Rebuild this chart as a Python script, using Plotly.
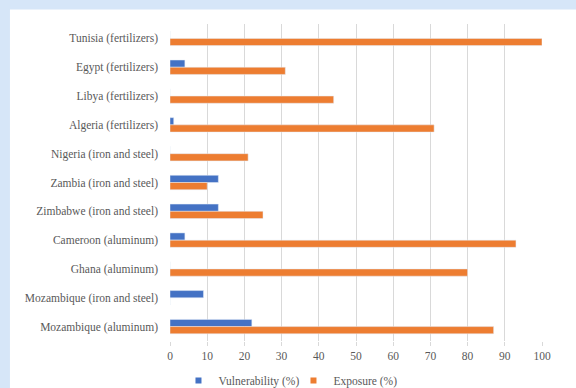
import plotly.graph_objects as go

categories = [
    "Tunisia (fertilizers)",
    "Egypt (fertilizers)",
    "Libya (fertilizers)",
    "Algeria (fertilizers)",
    "Nigeria (iron and steel)",
    "Zambia (iron and steel)",
    "Zimbabwe (iron and steel)",
    "Cameroon (aluminum)",
    "Ghana (aluminum)",
    "Mozambique (iron and steel)",
    "Mozambique (aluminum)",
]
vulnerability = [0, 4, 0, 1, 0, 13, 13, 4, 0, 9, 22]
exposure = [100, 31, 44, 71, 21, 10, 25, 93, 80, 0, 87]
x_ticks = [0, 10, 20, 30, 40, 50, 60, 70, 80, 90, 100]
series_names = ["Vulnerability (%)", "Exposure (%)"]
series_colors = ["#4472C4", "#ED7D31"]

W, H = 576, 388
L, R, T, B = 169.5, 33.5, 23.5, 46.5
pw, ph = W - L - R, H - T - B

def px_x(p):
    return (p - L) / pw

def px_y(p):
    return (H - B - p) / ph

FONT = "'Liberation Serif', 'Times New Roman', serif"
TXT = "#595959"
FS = 11.5
BLUE_BG = "#d6e6f8"

fig = go.Figure()
for vals, name, col in zip([vulnerability, exposure], series_names, series_colors):
    fig.add_trace(go.Bar(y=categories, x=vals, orientation="h", name=name,
                         marker_color=col, showlegend=False, legendgroup=name))
for name, col in zip(series_names, series_colors):
    fig.add_trace(go.Scatter(x=[None], y=[None], mode="markers", name=name,
                             legendgroup=name,
                             marker=dict(symbol="square", size=6, color=col)))

# light-blue frame (left and top bands)
fig.add_shape(type="rect", xref="paper", yref="paper",
              x0=px_x(-20), x1=px_x(9), y0=px_y(H + 20), y1=px_y(-20),
              fillcolor=BLUE_BG, line_width=0, layer="below")
fig.add_shape(type="rect", xref="paper", yref="paper",
              x0=px_x(-20), x1=px_x(W + 20), y0=px_y(9), y1=px_y(-20),
              fillcolor=BLUE_BG, line_width=0, layer="below")

fig.update_layout(
    width=W, height=H,
    margin=dict(l=L, r=R, t=T, b=B, pad=0, autoexpand=False),
    paper_bgcolor="white",
    plot_bgcolor="rgba(0,0,0,0)",
    barmode="group", bargap=0.5, bargroupgap=0,
    font=dict(family=FONT, size=FS, color=TXT),
    showlegend=True,
    legend=dict(orientation="h", x=px_x(178), xanchor="left",
                y=px_y(381), yanchor="middle",
                font=dict(family=FONT, size=FS, color=TXT),
                bgcolor="rgba(0,0,0,0)", itemwidth=30, entrywidth=70,
                traceorder="normal"),
    xaxis=dict(range=[0, 100], tickvals=x_ticks, showgrid=True,
               gridcolor="#d9d9d9", gridwidth=1, zeroline=False,
               showline=False, ticks="outside", ticklen=4, tickcolor="#d9d9d9",
               tickfont=dict(family=FONT, size=FS, color=TXT)),
    yaxis=dict(autorange="reversed", showgrid=False, zeroline=False,
               showline=False, ticks="", ticklabelstandoff=11,
               tickfont=dict(family=FONT, size=FS, color=TXT)),
)

fig.write_html("out.html")
